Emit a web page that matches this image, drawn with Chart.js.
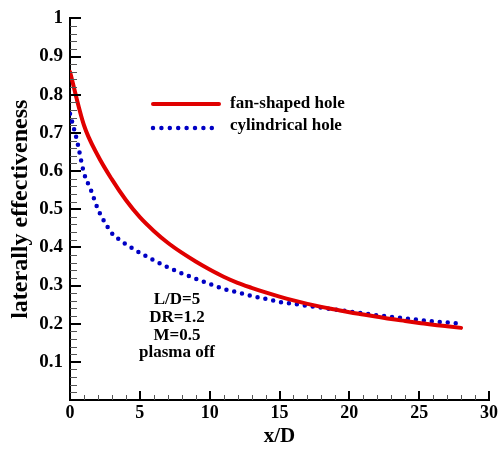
<!DOCTYPE html>
<html>
<head>
<meta charset="utf-8">
<script src="https://cdn.jsdelivr.net/npm/chart.js@4/dist/chart.umd.min.js"></script>
<style>
  body { margin: 0; background: #fff; }
  #wrap { width: 501px; height: 450px; }
</style>
</head>
<body>
<div id="wrap"><canvas id="chart" width="501" height="450"></canvas></div>
<script>
// data
const fanX = [0, 1, 2, 3, 4, 5, 6, 7, 8, 9, 10, 11, 12, 13, 14, 15, 16, 17, 18, 19, 20, 21, 22, 23, 24, 25, 26, 27, 28];
const fanShaped = [0.86, 0.72, 0.640, 0.578, 0.524, 0.479, 0.443, 0.412, 0.386, 0.363, 0.342, 0.323, 0.307, 0.294, 0.282,
  0.271, 0.261, 0.252, 0.244, 0.237, 0.230, 0.224, 0.218, 0.212, 0.207, 0.202, 0.197, 0.193, 0.189];

const cylX = [0, 0.5, 1, 1.5, 2, 2.5, 3, 3.5, 4, 5, 6, 7, 8, 9, 10, 11, 12, 13, 14, 15, 16, 17, 18, 19, 20, 21, 22, 23, 24, 25, 26, 27, 28];
const cylindrical = [0.75, 0.68, 0.595, 0.55, 0.50, 0.465, 0.437, 0.421, 0.408, 0.386, 0.366, 0.348, 0.332, 0.318, 0.304,
  0.291, 0.282, 0.273, 0.265, 0.257, 0.252, 0.247, 0.242, 0.237, 0.232, 0.227, 0.222, 0.218, 0.214, 0.210, 0.206, 0.203, 0.200];

const seriesNames = ['fan-shaped hole', 'cylindrical hole'];
const xTickLabels = ['0', '5', '10', '15', '20', '25', '30'];
const yTickLabels = ['', '0.1', '0.2', '0.3', '0.4', '0.5', '0.6', '0.7', '0.8', '0.9', '1'];
const noteLines = ['L/D=5', 'DR=1.2', 'M=0.5', 'plasma off'];

const RED = '#e00000';
const BLUE = '#0000c4';
const SERIF = '"Liberation Serif", "Times New Roman", serif';

// inward major/minor ticks, like the original plotting package
const innerTicks = {
  id: 'innerTicks',
  afterDraw(chart) {
    const ctx = chart.ctx;
    const xs = chart.scales.x, ys = chart.scales.y;
    const area = chart.chartArea;
    ctx.save();
    for (let i = 0; i <= 30; i++) {
      const px = Math.round(xs.getPixelForValue(i));
      const major = i % 5 === 0;
      ctx.strokeStyle = major ? '#000' : '#555';
      ctx.lineWidth = major ? 2 : 1;
      ctx.beginPath();
      ctx.moveTo(px + (major ? 0 : 0.5), area.bottom);
      ctx.lineTo(px + (major ? 0 : 0.5), area.bottom - (major ? 9 : 5));
      ctx.stroke();
    }
    for (let i = 0; i <= 50; i++) {
      const py = Math.round(ys.getPixelForValue(i / 50));
      const major = i % 5 === 0;
      ctx.strokeStyle = major ? '#000' : '#555';
      ctx.lineWidth = major ? 2 : 1;
      ctx.beginPath();
      ctx.moveTo(area.left, py + (major ? 0 : 0.5));
      ctx.lineTo(area.left + (major ? 11 : 7), py + (major ? 0 : 0.5));
      ctx.stroke();
    }
    ctx.restore();
  }
};

// legend inside the plot + the case note
const labels = {
  id: 'labels',
  afterDraw(chart) {
    const ctx = chart.ctx;
    ctx.save();
    ctx.font = 'bold 17px ' + SERIF;
    ctx.fillStyle = '#000';
    ctx.textBaseline = 'middle';

    // legend
    ctx.lineCap = 'round';
    ctx.strokeStyle = RED;
    ctx.lineWidth = 4;
    ctx.beginPath(); ctx.moveTo(153, 104); ctx.lineTo(219, 104); ctx.stroke();
    ctx.strokeStyle = BLUE;
    ctx.lineWidth = 4.5;
    ctx.setLineDash([0, 8.4]);
    ctx.beginPath(); ctx.moveTo(153, 128); ctx.lineTo(220, 128); ctx.stroke();
    ctx.setLineDash([]);
    ctx.textAlign = 'left';
    ctx.fillText(seriesNames[0], 230, 104);
    ctx.fillText(seriesNames[1], 230, 126);

    // note
    ctx.textAlign = 'center';
    noteLines.forEach((t, i) => ctx.fillText(t, 177, 300 + i * 17.6));
    ctx.restore();
  }
};

const ctx = document.getElementById('chart').getContext('2d');
new Chart(ctx, {
  type: 'line',
  data: {
    datasets: [{
      label: seriesNames[0],
      data: fanX.map((x, i) => ({ x: x, y: fanShaped[i] })),
      borderColor: RED,
      borderWidth: 4,
      pointRadius: 0,
      cubicInterpolationMode: 'monotone',
      borderCapStyle: 'round',
      borderJoinStyle: 'round'
    }, {
      label: seriesNames[1],
      data: cylX.map((x, i) => ({ x: x, y: cylindrical[i] })),
      borderColor: BLUE,
      borderWidth: 4.5,
      borderDash: [0, 8],
      borderCapStyle: 'round',
      pointRadius: 0,
      cubicInterpolationMode: 'monotone'
    }]
  },
  options: {
    responsive: false,
    animation: false,
    devicePixelRatio: 1,
    layout: { padding: { top: 17, right: 10, left: 0, bottom: 0 } },
    plugins: { legend: { display: false }, tooltip: { enabled: false } },
    scales: {
      x: {
        type: 'linear',
        min: 0, max: 30,
        afterFit: s => { s.height = 50; },
        grid: { drawOnChartArea: false, drawTicks: false },
        border: { display: true, color: '#000', width: 2 },
        ticks: {
          stepSize: 5,
          padding: 3,
          color: '#000',
          font: { family: SERIF, size: 18, weight: 'bold' },
          callback: (v, i) => xTickLabels[i]
        },
        title: {
          display: true, text: 'x/D', color: '#000',
          font: { family: SERIF, size: 21, weight: 'bold' },
          padding: { top: 0, bottom: 1 }
        }
      },
      y: {
        min: 0, max: 1,
        afterFit: s => { s.width = 70; },
        grid: { drawOnChartArea: false, drawTicks: false },
        border: { display: true, color: '#000', width: 2 },
        ticks: {
          stepSize: 0.1,
          padding: 7,
          color: '#000',
          font: { family: SERIF, size: 19, weight: 'bold' },
          callback: (v, i) => yTickLabels[i]
        },
        title: {
          display: true, text: 'laterally effectiveness', color: '#000',
          font: { family: SERIF, size: 24, weight: 'bold' },
          padding: { top: 6, bottom: 0 }
        }
      }
    }
  },
  plugins: [innerTicks, labels]
});
</script>
</body>
</html>
